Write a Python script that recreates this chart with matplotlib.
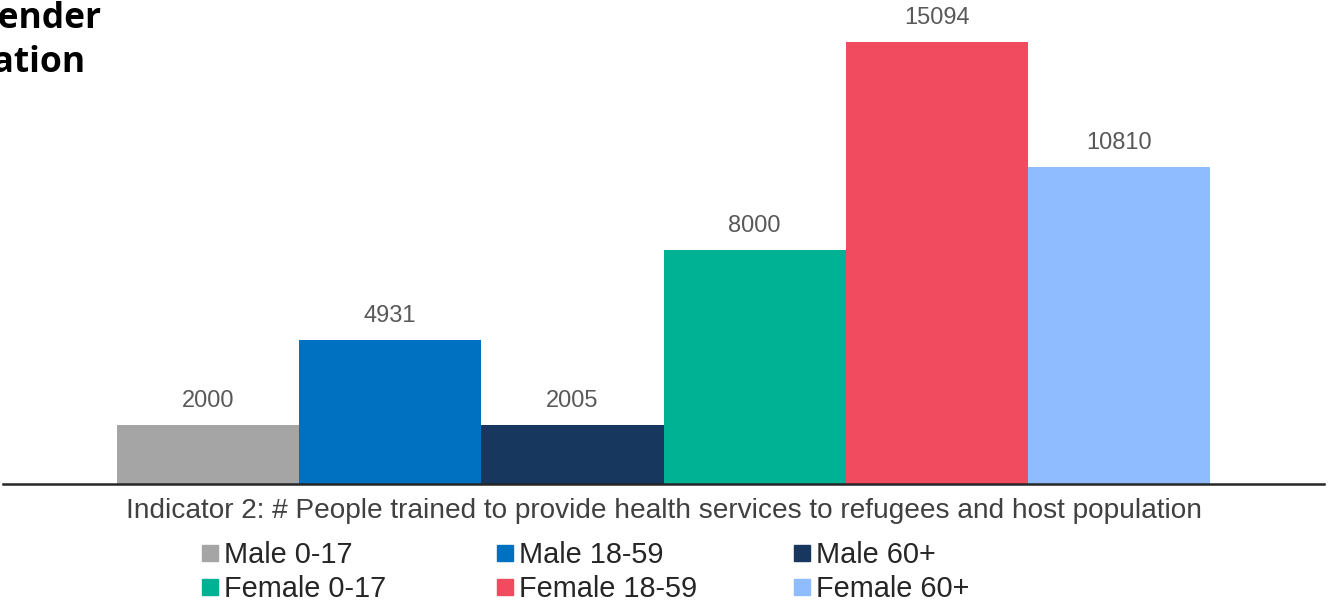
import matplotlib
matplotlib.use("Agg")
import matplotlib.pyplot as plt
from matplotlib.lines import Line2D

categories = ["Indicator 2: # People trained to provide health services to refugees and host population"]
series = ["Male 0-17", "Male 18-59", "Male 60+", "Female 0-17", "Female 18-59", "Female 60+"]
values = [2000, 4931, 2005, 8000, 15094, 10810]
colors = ["#A5A5A5", "#0070C0", "#17375E", "#00B294", "#F04B5F", "#8FBCFF"]
title_lines = ["Gender", "Population"]

W, H = 1332, 605
fig = plt.figure(figsize=(W / 100, H / 100), dpi=100)
ax = fig.add_axes([3 / W, 1 - 484 / H, (1324 - 3) / W, 484 / H])

n = len(series)
group = 0.828
w = group / n
for i, (s, v, c) in enumerate(zip(series, values, colors)):
    x = 0 + (i - (n - 1) / 2) * w
    ax.bar(x, v, width=w, color=c, label=s, zorder=2)
    ax.text(x, v + 24 / 0.02928, str(v), ha="center", va="center",
            fontsize=17, color="#595959", family="Liberation Sans")

ax.set_xlim(-0.5, 0.5)
ax.set_ylim(0, 484 / 0.02928)
for sp in ["top", "right", "left"]:
    ax.spines[sp].set_visible(False)
ax.spines["bottom"].set_color("#262626")
ax.spines["bottom"].set_linewidth(1.8)
ax.set_yticks([])
ax.set_xticks([0])
ax.set_xticklabels(categories, fontsize=20.2, color="#404040", family="Liberation Sans")
ax.tick_params(axis="x", length=0, pad=10)

handles = [Line2D([], [], marker="s", linestyle="none", markersize=11,
                  markerfacecolor=c, markeredgecolor=c) for c in colors]
col_x = [202.5, 497.5, 794.5]
for j in range(3):
    idx = [j, j + 3]
    leg = fig.legend([handles[i] for i in idx], [series[i] for i in idx],
                     ncol=1, loc="center left", bbox_to_anchor=(col_x[j] / W, 1 - 572 / H),
                     frameon=False, prop={"family": "Liberation Sans", "size": 20.8},
                     handlelength=0.55, handletextpad=0.2,
                     labelspacing=0.22, borderpad=0, borderaxespad=0)
    for t in leg.get_texts():
        t.set_color("#262626")

fig.text(101 / W, 1 - 19 / H, title_lines[0], ha="right", va="center",
         fontsize=25.5, fontweight="bold", family="Open Sans", color="black")
fig.text(86 / W, 1 - 63 / H, title_lines[1], ha="right", va="center",
         fontsize=25.5, fontweight="bold", family="Open Sans", color="black")

fig.savefig("out.png", dpi=100)
